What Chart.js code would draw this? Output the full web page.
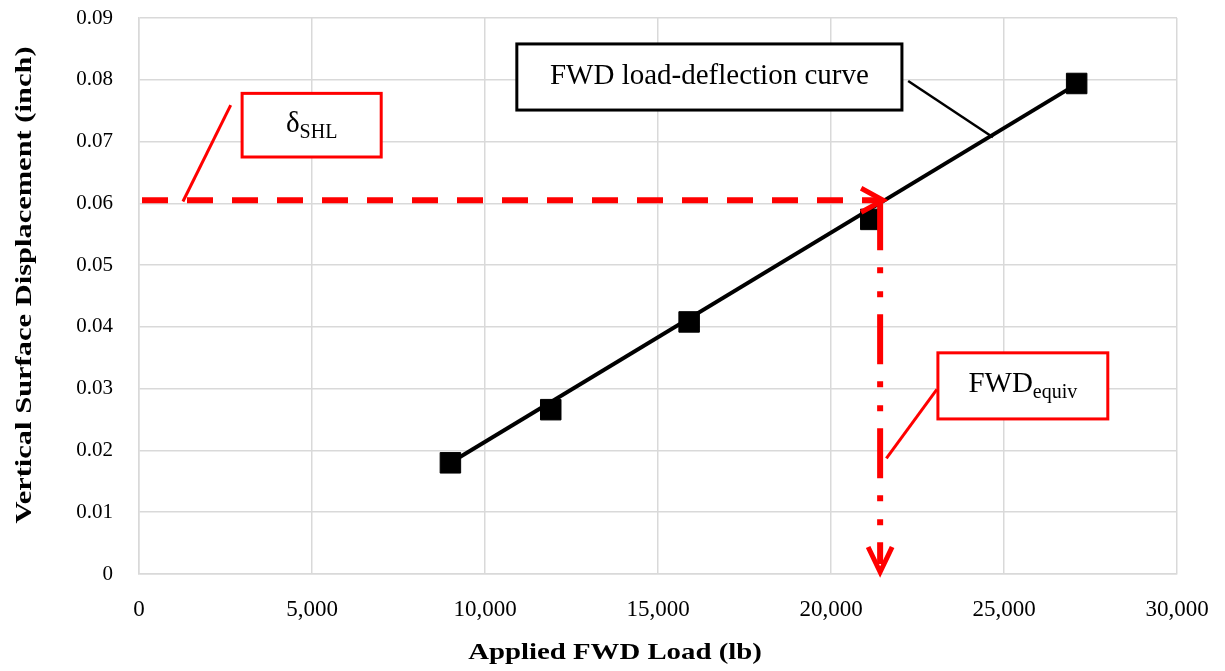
<!DOCTYPE html>
<html>
<head>
<meta charset="utf-8">
<script src="https://cdn.jsdelivr.net/npm/chart.js@4.4.1/dist/chart.umd.min.js"></script>
<style>
  html, body { margin: 0; padding: 0; background: #fff; }
  #wrap { width: 1225px; height: 671px; }
</style>
</head>
<body>
<div id="wrap"><canvas id="fwdChart" width="1225" height="671"></canvas></div>
<script>
// measured FWD points
const loadLb = [9000, 11900, 15900, 21150, 27100];
const deflIn = [0.0180, 0.0266, 0.0408, 0.0574, 0.0794];

// linear trend line (at its two ends)
const trendLoad = [9000, 27100];
const trendDefl = [0.0180, 0.0793];

// equivalent point used for the red guide lines
const shlDefl = 0.0605;
const equivLoad = 21420;

const xTicks = [0, 5000, 10000, 15000, 20000, 25000, 30000];
const yTicks = [0, 0.01, 0.02, 0.03, 0.04, 0.05, 0.06, 0.07, 0.08, 0.09];

const xTitle = 'Applied FWD Load (lb)';
const yTitle = 'Vertical Surface Displacement (inch)';

const serif = "'Liberation Serif', 'Times New Roman', serif";
const gridColor = '#d9d9d9';

function toPts(xs, ys) {
    return xs.map((x, i) => ({ x: x, y: ys[i] }));
}

// callouts, placed in data units
const callouts = [
    { x1: 2980, x2: 7000, y1: 0.0778, y2: 0.0675, color: '#ff0000', main: 'δ', sub: 'SHL',
      lead: [2650, 0.0759, 1270, 0.0603] },
    { x1: 23090, x2: 28000, y1: 0.0358, y2: 0.0251, color: '#ff0000', main: 'FWD', sub: 'equiv',
      lead: [23060, 0.0299, 21600, 0.0187] },
    { x1: 10920, x2: 22050, y1: 0.0858, y2: 0.0751, color: '#000000', main: 'FWD load-deflection curve', sub: '',
      lead: [22230, 0.0798, 24680, 0.0707] }
];

const guidePlugin = {
    id: 'guides',
    afterDatasetsDraw(chart) {
        const ctx = chart.ctx;
        const xs = chart.scales.x, ys = chart.scales.y;
        const px = v => xs.getPixelForValue(v);
        const py = v => ys.getPixelForValue(v);
        ctx.save();
        ctx.lineCap = 'butt';

        // horizontal dashed red line
        const hy = py(shlDefl);
        const hx0 = px(0) + 3, hx1 = px(equivLoad) + 3;
        ctx.strokeStyle = '#ff0000';
        ctx.lineWidth = 6;
        ctx.setLineDash([26, 19]);
        ctx.beginPath();
        ctx.moveTo(hx0, hy);
        ctx.lineTo(hx1 - 4, hy);
        ctx.stroke();
        ctx.setLineDash([]);
        ctx.lineWidth = 5;
        ctx.beginPath();
        ctx.moveTo(hx1 - 22, hy - 12);
        ctx.lineTo(hx1, hy);
        ctx.lineTo(hx1 - 22, hy + 12);
        ctx.stroke();

        // vertical dash-dot-dot red line
        const vx = px(equivLoad);
        const vy0 = hy, vy1 = py(0) - 2;
        ctx.lineWidth = 6;
        ctx.setLineDash([50, 17, 6, 18, 6, 17]);
        ctx.beginPath();
        ctx.moveTo(vx, vy0);
        ctx.lineTo(vx, vy1 - 8);
        ctx.stroke();
        ctx.setLineDash([]);
        ctx.lineWidth = 5;
        ctx.beginPath();
        ctx.moveTo(vx - 12, vy1 - 25);
        ctx.lineTo(vx, vy1);
        ctx.lineTo(vx + 12, vy1 - 25);
        ctx.stroke();

        // callout boxes
        callouts.forEach(c => {
            const l = px(c.x1), r = px(c.x2), t = py(c.y1), b = py(c.y2);
            ctx.fillStyle = '#fff';
            ctx.fillRect(l, t, r - l, b - t);
            ctx.strokeStyle = c.color;
            ctx.lineWidth = 3;
            ctx.strokeRect(l, t, r - l, b - t);

            ctx.lineWidth = c.color === '#000000' ? 2.5 : 3;
            ctx.beginPath();
            ctx.moveTo(px(c.lead[0]), py(c.lead[1]));
            ctx.lineTo(px(c.lead[2]), py(c.lead[3]));
            ctx.stroke();

            ctx.fillStyle = '#000';
            ctx.textBaseline = 'alphabetic';
            const cx = (l + r) / 2;
            const base = t + (b - t) * 0.6;
            ctx.font = '29px ' + serif;
            const mw = ctx.measureText(c.main).width;
            ctx.font = '20px ' + serif;
            const sw = c.sub ? ctx.measureText(c.sub).width : 0;
            const start = cx - (mw + sw) / 2;
            ctx.font = '29px ' + serif;
            ctx.textAlign = 'left';
            ctx.fillText(c.main, start, base);
            if (c.sub) {
                ctx.font = '20px ' + serif;
                ctx.fillText(c.sub, start + mw, base + 6);
            }
        });
        ctx.restore();
    },
    afterDraw(chart) {
        // axis titles, slightly widened like the original
        const ctx = chart.ctx;
        ctx.save();
        ctx.fillStyle = '#000';
        ctx.font = 'bold 24px ' + serif;
        ctx.textAlign = 'center';
        ctx.textBaseline = 'middle';

        ctx.save();
        ctx.translate(615, 653);
        ctx.scale(1.2, 1);
        ctx.fillText(xTitle, 0, 0);
        ctx.restore();

        ctx.save();
        ctx.translate(25, 285);
        ctx.rotate(-Math.PI / 2);
        ctx.scale(1.27, 1);
        ctx.fillText(yTitle, 0, 0);
        ctx.restore();

        ctx.restore();
    }
};

new Chart(document.getElementById('fwdChart'), {
    type: 'scatter',
    data: {
        datasets: [
            {
                label: 'Trend',
                data: toPts(trendLoad, trendDefl),
                showLine: true,
                borderColor: '#000',
                borderWidth: 4,
                pointRadius: 0,
                order: 2
            },
            {
                label: 'FWD',
                data: toPts(loadLb, deflIn),
                showLine: false,
                pointStyle: 'rect',
                pointRadius: 14.5,
                pointBackgroundColor: '#000',
                pointBorderColor: '#000',
                pointBorderWidth: 1,
                order: 1
            }
        ]
    },
    options: {
        responsive: false,
        animation: false,
        layout: { padding: { top: 18, right: 48, left: 0, bottom: 0 } },
        plugins: {
            legend: { display: false },
            tooltip: { enabled: false }
        },
        scales: {
            x: {
                type: 'linear',
                min: 0,
                max: 30000,
                afterBuildTicks: s => { s.ticks = xTicks.map(v => ({ value: v })); },
                afterFit: s => { s.height = 97; s.paddingLeft = 0; s.paddingRight = 0; },
                grid: { color: gridColor, lineWidth: 1.5, drawTicks: false },
                border: { color: gridColor, width: 1.5 },
                ticks: {
                    padding: 22,
                    color: '#000',
                    font: { family: serif, size: 23 },
                    callback: v => v.toLocaleString('en-US')
                },
                title: { display: false }
            },
            y: {
                type: 'linear',
                min: 0,
                max: 0.09,
                afterBuildTicks: s => { s.ticks = yTicks.map(v => ({ value: v })); },
                afterFit: s => { s.width = 139; s.paddingTop = 0; s.paddingBottom = 0; },
                grid: { color: gridColor, lineWidth: 1.5, drawTicks: false },
                border: { color: gridColor, width: 1.5 },
                ticks: {
                    padding: 26,
                    color: '#000',
                    font: { family: serif, size: 21 },
                    callback: v => v === 0 ? '0' : v.toFixed(2)
                },
                title: { display: false }
            }
        }
    },
    plugins: [guidePlugin]
});
</script>
</body>
</html>
